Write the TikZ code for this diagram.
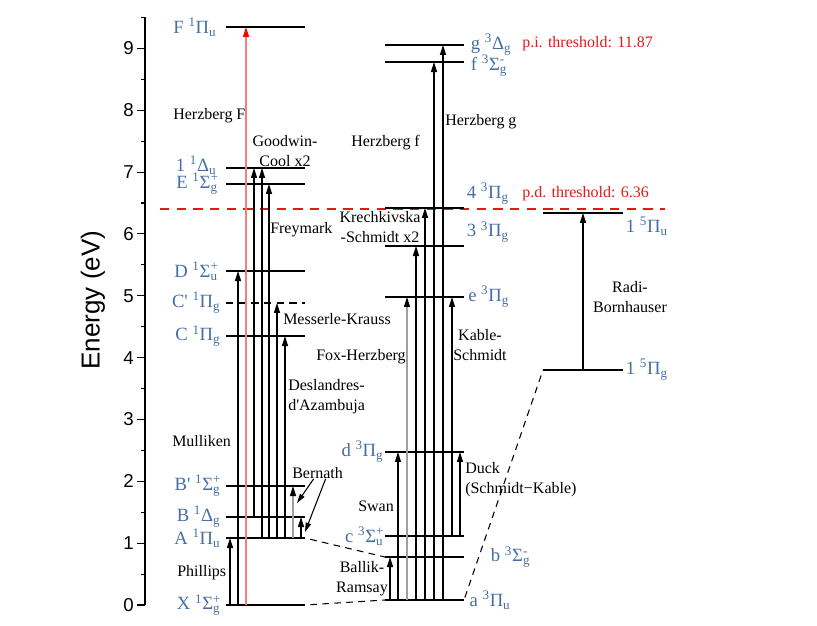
\documentclass[tikz,border=0pt]{standalone}
\usepackage{fontspec}
\setmainfont{Liberation Serif}
\setsansfont{Liberation Sans}
\usetikzlibrary{arrows.meta,positioning,calc}

\definecolor{termblue}{RGB}{70,110,165}
\definecolor{thred}{RGB}{225,25,25}
\definecolor{lightred}{RGB}{245,125,125}

\newcommand{\supsub}[2]{\makebox[0pt][l]{\textsuperscript{#1}}\textsubscript{#2}}

\begin{document}
\begin{tikzpicture}[x=0.75pt, y=46.39pt,
  lvl/.style={line width=1.4pt},
  split/.style={lvl, dash pattern=on 5.5pt off 4pt},
  trans/.style={line width=0.9pt, -{Triangle[length=7.5pt,width=4.5pt]}},
  faint/.style={trans, draw=gray!75, -{Triangle[length=7.5pt,width=4.5pt,color=black]}},
  herz/.style={trans, draw=lightred, -{Triangle[length=7.5pt,width=4.5pt,color=red]}},
  corr/.style={line width=0.8pt, dash pattern=on 5pt off 4pt},
  thr/.style={line width=1.2pt, draw=thred, dash pattern=on 7pt off 5.5pt},
  term/.style={text=termblue, font=\fontsize{14}{16}\selectfont, inner sep=1pt},
  band/.style={font=\fontsize{12}{15}\selectfont, align=center, inner sep=0pt},
  ptr/.style={line width=0.8pt, -{Triangle[length=7pt,width=4pt]}},
  note/.style={band, text=thred},
  tick/.style={font=\sffamily\fontsize{14}{16}\selectfont, inner sep=2pt}
]
\useasboundingbox (0,-0.3234) rectangle (817,9.7817);

% energy axis
\draw[line width=0.8pt] (145,0) coordinate (ax0) -- (145,9.5) coordinate (ax1);
\foreach \e in {0,...,9}
  \draw[line width=0.8pt] (145,\e) -- ++(-8,0) node[tick, left] {\e};
\foreach \e in {0.5,1.5,...,9.5}
  \draw[line width=0.8pt] (145,\e) -- ++(-4,0);
\node[rotate=90, font=\sffamily\fontsize{19.5}{22}\selectfont] (ylab) at (93,4.93) {Energy (eV)};

% thresholds
\coordinate (pdL) at (160,6.403);
\coordinate (pdR) at (665,6.403);
\draw[thr] (pdL) -- (pdR);
\node[note, anchor=west] (pi) at (522,9.070) {p.i. threshold: 11.87};
\node[note, anchor=west] (pd) at (522,6.645) {p.d. threshold: 6.36};

% singlet levels
\draw[lvl] (226,0) coordinate (X) -- (305,0) coordinate (Xr);
\draw[lvl] (226,1.083) coordinate (A) -- (305,1.083) coordinate (Ar);
\draw[lvl] (226,1.423) coordinate (B) -- (305,1.423) coordinate (Br);
\draw[lvl] (226,1.924) coordinate (Bp) -- (305,1.924) coordinate (Bpr);
\draw[lvl] (226,4.349) coordinate (C) -- (305,4.349) coordinate (Cr);
\draw[split] (226,4.883) coordinate (Cp) -- (305,4.883) coordinate (Cpr);
\draw[lvl] (226,5.400) coordinate (D) -- (305,5.400) coordinate (Dr);
\draw[lvl] (226,6.807) coordinate (E) -- (305,6.807) coordinate (Er);
\draw[lvl] (226,7.066) coordinate (Du) -- (305,7.066) coordinate (Dur);
\draw[lvl] (226,9.345) coordinate (F) -- (305,9.345) coordinate (Fr);

\node[term, left=3pt of X] (Xt) {X \textsuperscript{1}Σ\supsub{+}{g}};
\node[term, left=3pt of A] (At) {A \textsuperscript{1}Π\textsubscript{u}};
\node[term, left=3pt of B] (Bt) {B \textsuperscript{1}Δ\textsubscript{g}};
\node[term, left=3pt of Bp] (Bpt) {B\textquotesingle{} \textsuperscript{1}Σ\supsub{+}{g}};
\node[term, left=3pt of C] (Ct) {C \textsuperscript{1}Π\textsubscript{g}};
\node[term, left=3pt of Cp] (Cpt) {C\textquotesingle{} \textsuperscript{1}Π\textsubscript{g}};
\node[term, left=5pt of D] (Dt) {D \textsuperscript{1}Σ\supsub{+}{u}};
\node[term, left=5pt of E] (Et) {E \textsuperscript{1}Σ\supsub{+}{g}};
\node[term, left=6pt of Du, yshift=2pt] (Dut) {1 \textsuperscript{1}Δ\textsubscript{u}};
\node[term, left=6pt of F] (Ft) {F \textsuperscript{1}Π\textsubscript{u}};

% triplet levels
\draw[lvl] (385,0.081) coordinate (a) -- (464,0.081) coordinate (ar);
\draw[lvl] (385,0.776) coordinate (b) -- (464,0.776) coordinate (br);
\draw[lvl] (385,1.116) coordinate (c) -- (464,1.116) coordinate (cr);
\draw[lvl] (385,2.474) coordinate (d) -- (464,2.474) coordinate (dr);
\draw[lvl] (385,4.980) coordinate (e) -- (464,4.980) coordinate (er);
\draw[lvl] (385,5.804) coordinate (t3) -- (464,5.804) coordinate (t3r);
\draw[lvl] (385,6.419) coordinate (t4) -- (464,6.419) coordinate (t4r);
\draw[lvl] (385,8.779) coordinate (f) -- (464,8.779) coordinate (fr);
\draw[lvl] (385,9.054) coordinate (g) -- (464,9.054) coordinate (gr);

\node[term, right=3pt of ar] (at) {a \textsuperscript{3}Π\textsubscript{u}};
\node[term, right=19pt of br] (bt) {b \textsuperscript{3}Σ\supsub{-}{g}};
\node[term, left=0pt of c] (ct) {c \textsuperscript{3}Σ\supsub{+}{u}};
\node[term, left=0pt of d] (dt) {d \textsuperscript{3}Π\textsubscript{g}};
\node[term, right=2pt of er] (et) {e \textsuperscript{3}Π\textsubscript{g}};
\node[term, right=1pt of t3r, yshift=10.5pt] (t3t) {3 \textsuperscript{3}Π\textsubscript{g}};
\node[term, right=1pt of t4r, yshift=11pt] (t4t) {4 \textsuperscript{3}Π\textsubscript{g}};
\node[term, right=4pt of fr, yshift=-3pt] (ft) {f \textsuperscript{3}Σ\supsub{-}{g}};
\node[term, right=4pt of gr] (gt) {g \textsuperscript{3}Δ\textsubscript{g}};

% quintet levels
\draw[lvl] (543,3.800) coordinate (q1) -- (623,3.800) coordinate (q1r);
\draw[lvl] (543,6.338) coordinate (q2) -- (623,6.338) coordinate (q2r);
\node[term, right=1pt of q1r] (q1t) {1 \textsuperscript{5}Π\textsubscript{g}};
\node[term, right=1pt of q2r, yshift=-10pt] (q2t) {1 \textsuperscript{5}Π\textsubscript{u}};

% correlation lines
\draw[corr, shorten <=4pt] (Xr) -- (a);
\draw[corr, shorten <=4pt] (Ar) -- (b);
\draw[corr, shorten <=2pt] (ar) -- (q1);

% singlet transitions
\draw[trans] (X -| 230,0) -- (A -| 230,0);
\draw[trans] (X -| 238,0) -- (D -| 238,0);
\draw[herz] (X -| 246,0) -- (F -| 246,0);
\draw[trans] (B -| 254,0) -- (Du -| 254,0);
\draw[trans] (A -| 262,0) -- (Du -| 262,0);
\draw[trans] (A -| 269,0) -- (E -| 269,0);
\draw[trans] (A -| 277,0) -- (Cp -| 277,0);
\draw[trans] (A -| 285,0) -- (C -| 285,0);
\draw[faint] (A -| 293,0) -- (Bp -| 293,0);
\draw[trans] (A -| 301,0) -- (B -| 301,0);

% triplet transitions
\draw[trans] (a -| 390,0) -- (b -| 390,0);
\draw[trans] (a -| 398,0) -- (d -| 398,0);
\draw[faint] (a -| 407,0) -- (e -| 407,0);
\draw[trans] (a -| 416,0) -- (t3 -| 416,0);
\draw[trans] (a -| 425,0) -- (t4 -| 425,0);
\draw[trans] (a -| 434,0) -- (f -| 434,0);
\draw[trans] (a -| 443,0) -- (g -| 443,0);
\draw[trans] (c -| 452,0) -- (e -| 452,0);
\draw[trans] (c -| 460,0) -- (d -| 460,0);

% quintet transition
\draw[trans] (q1 -| 583,0) -- (q2 -| 583,0);

% band names
\node[band, anchor=west] (hF) at (173,7.906) {Herzberg F};
\node[band] (gc) at (285,7.340) {Goodwin-\\Cool x2};
\node[band, anchor=west] (frey) at (270,6.063) {Freymark};
\node[band, anchor=west] (mk) at (283,4.624) {Messerle-Krauss};
\node[band, anchor=west] (fh) at (316,4.010) {Fox-Herzberg};
\node[band, anchor=west, align=left] (dA) at (288,3.363) {Deslandres-\\d\textquotesingle{}Azambuja};
\node[band, anchor=west] (mul) at (172,2.652) {Mulliken};
\node[band, anchor=west] (bern) at (292,2.134) {Bernath};
\node[band, anchor=west] (phil) at (177,0.517) {Phillips};
\node[band, anchor=west] (swan) at (358,1.601) {Swan};
\node[band] (br) at (362,0.420) {Ballik-\\Ramsay};
\node[band, anchor=west, align=left] (duck) at (465,2.021) {Duck\\(Schmidt−Kable)};
\node[band] (ks) at (480,4.204) {Kable-\\Schmidt};
\node[band] (krs) at (380,6.112) {Krechkivska\\-Schmidt x2};
\node[band, anchor=west] (hf) at (351,7.470) {Herzberg f};
\node[band, anchor=west] (hg) at (445,7.809) {Herzberg g};
\node[band] (rb) at (630,4.980) {Radi-\\Bornhauser};

\coordinate (tipBp) at (297,1.649);
\coordinate (tipB) at (305,1.180);
\draw[ptr] ([xshift=-3pt]bern.south) -- (tipBp);
\draw[ptr] ([xshift=6pt]bern.south) -- (tipB);

\end{tikzpicture}
\end{document}
